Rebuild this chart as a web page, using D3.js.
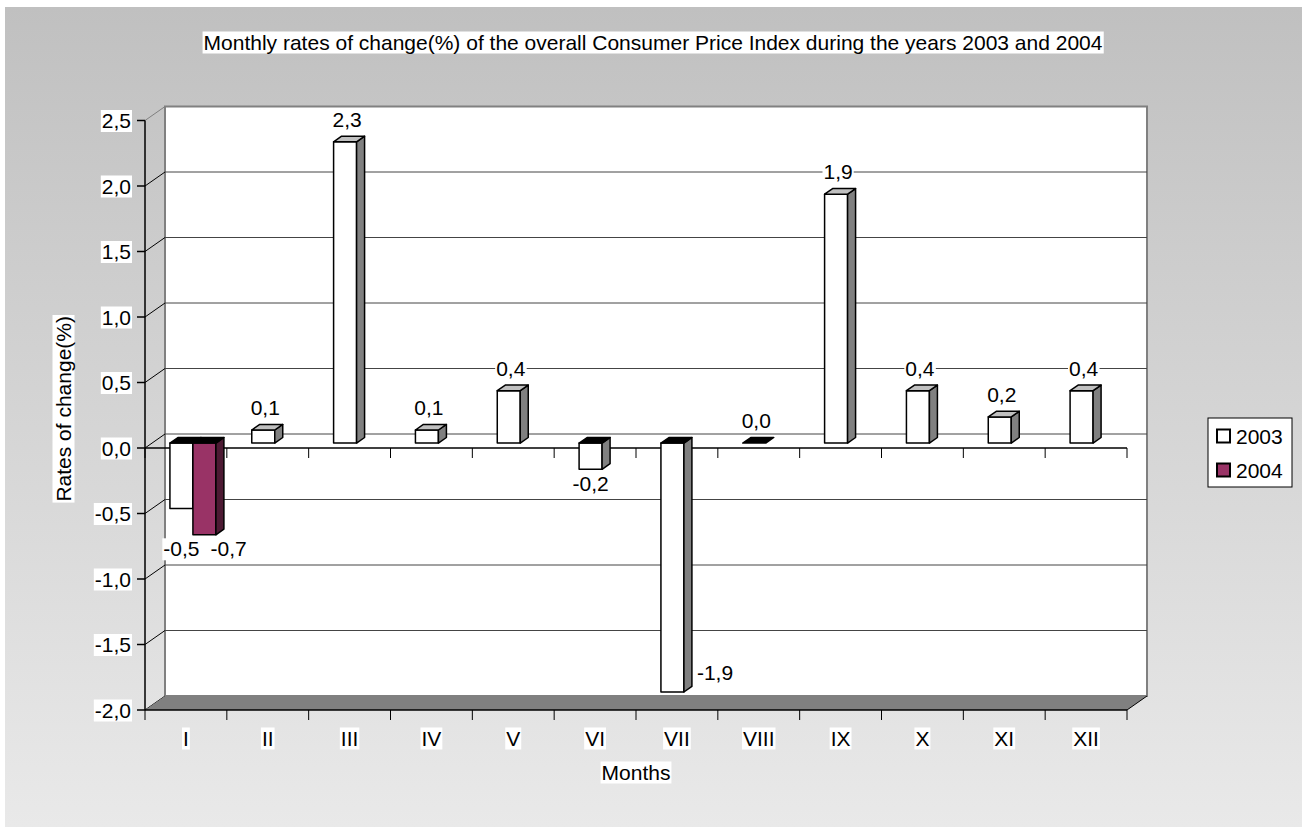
<!DOCTYPE html>
<html>
<head>
<meta charset="utf-8">
<script src="https://cdn.jsdelivr.net/npm/d3@7"></script>
<style>
  body { margin: 0; background: #fff; }
  text { font-family: "Liberation Sans", Arial, sans-serif; fill: #000; }
</style>
</head>
<body>
<svg id="chart"></svg>
<script>
const months = ["I", "II", "III", "IV", "V", "VI", "VII", "VIII", "IX", "X", "XI", "XII"];
const years = ["2003", "2004"];
const values2003 = [-0.5, 0.1, 2.3, 0.1, 0.4, -0.2, -1.9, 0.0, 1.9, 0.4, 0.2, 0.4];
const values2004 = [-0.7, null, null, null, null, null, null, null, null, null, null, null];
const yTicks = [-2.0, -1.5, -1.0, -0.5, 0.0, 0.5, 1.0, 1.5, 2.0, 2.5];
const title = "Monthly rates of change(%) of the overall Consumer Price Index during the years 2003 and 2004";

const width = 1306;
const height = 827;
const fontSize = 21;

const svg = d3.select("#chart")
  .attr("width", width)
  .attr("height", height);

// depth of the 3d box
const DX = 20, DY = -14;
const f1 = 0.35, f2 = 0.75;

const x = d3.scaleBand().domain(months).range([145, 1127]);
const xs = d3.scaleBand().domain(years).range([0, x.bandwidth()]).paddingOuter(0.78);
const y = d3.scaleLinear().domain([-2, 2.5]).range([710, 120.5]);

const fmt = v => v.toFixed(1).replace(".", ",");
const P = (px, py, f) => [px + f * DX, py + f * DY];

// background
const grad = svg.append("defs").append("linearGradient")
  .attr("id", "bg").attr("x1", 0).attr("y1", 0).attr("x2", 0).attr("y2", 1);
grad.append("stop").attr("offset", "0%").attr("stop-color", "#c0c0c0");
grad.append("stop").attr("offset", "100%").attr("stop-color", "#e9e9e9");

svg.append("rect").attr("width", width).attr("height", height).attr("fill", "#fff");
svg.append("rect").attr("x", 5).attr("y", 7).attr("width", 1297).attr("height", 820)
  .attr("fill", "url(#bg)");

const x0 = x.range()[0], x1 = x.range()[1];
const yMin = y(-2), yMax = y(2.5);

// back wall
svg.append("polygon")
  .attr("points", [P(x0, yMax, 1), P(x1, yMax, 1), P(x1, yMin, 1), P(x0, yMin, 1)].join(" "))
  .attr("fill", "#fff").attr("stroke", "#808080").attr("stroke-width", 2);

// grid lines on the back wall and the left side
yTicks.forEach(t => {
  if (t > -2 && t < 2.5) {
    const a = P(x0, y(t), 1), b = P(x1, y(t), 1);
    svg.append("line")
      .attr("x1", a[0]).attr("y1", a[1]).attr("x2", b[0]).attr("y2", b[1])
      .attr("stroke", "#444").attr("stroke-width", 1);
  }
  const c = P(x0, y(t), 1);
  svg.append("line")
    .attr("x1", x0).attr("y1", y(t)).attr("x2", c[0]).attr("y2", c[1])
    .attr("stroke", t === 2.5 ? "#808080" : "#000").attr("stroke-width", 1);
});

// floor
svg.append("polygon")
  .attr("points", [P(x0, yMin, 0), P(x1, yMin, 0), P(x1, yMin, 1), P(x0, yMin, 1)].join(" "))
  .attr("fill", "#808080");
const fr = P(x1, yMin, 1);
svg.append("line")
  .attr("x1", x1).attr("y1", yMin).attr("x2", fr[0]).attr("y2", fr[1])
  .attr("stroke", "#000").attr("stroke-width", 1);

// value axis
svg.append("line")
  .attr("x1", x0).attr("x2", x0).attr("y1", yMax).attr("y2", yMin)
  .attr("stroke", "#000").attr("stroke-width", 1.5);

const yAxis = svg.append("g");
yTicks.forEach(t => {
  yAxis.append("line")
    .attr("x1", x0 - 8).attr("x2", x0).attr("y1", y(t)).attr("y2", y(t))
    .attr("stroke", "#000").attr("stroke-width", 1.5);
});

// category lines: zero plane and floor edge
const bounds = months.map(m => x(m)).concat([x1]);
[0, -2].forEach(v => {
  svg.append("line")
    .attr("x1", x0).attr("x2", x1).attr("y1", y(v)).attr("y2", y(v))
    .attr("stroke", "#000").attr("stroke-width", 1.5);
  bounds.forEach(b => {
    svg.append("line")
      .attr("x1", b).attr("x2", b).attr("y1", y(v)).attr("y2", y(v) + 10)
      .attr("stroke", "#000").attr("stroke-width", 1);
  });
});

// bars
const series = [
  { year: "2003", values: values2003, front: "#ffffff", side: "#808080" },
  { year: "2004", values: values2004, front: "#993366", side: "#4d1a33" }
];

const bars = [];
months.forEach((m, i) => {
  series.forEach(s => {
    const v = s.values[i];
    if (v === null) return;
    bars.push({ month: m, year: s.year, value: v, s });
  });
});

const barLayer = svg.append("g");
bars.forEach(d => {
  const bx0 = x(d.month) + xs(d.year);
  const bx1 = bx0 + xs.bandwidth();
  const y0 = y(0), yv = y(d.value);
  const g = barLayer.append("g");
  const poly = (pts, fill) => g.append("polygon")
    .attr("points", pts.join(" "))
    .attr("fill", fill)
    .attr("stroke", "#000")
    .attr("stroke-width", 1.5)
    .attr("stroke-linejoin", "round");
  if (d.value !== 0) {
    poly([P(bx0, Math.min(y0, yv), f1), P(bx1, Math.min(y0, yv), f1),
          P(bx1, Math.max(y0, yv), f1), P(bx0, Math.max(y0, yv), f1)], d.s.front);
    poly([P(bx1, yv, f1), P(bx1, y0, f1), P(bx1, y0, f2), P(bx1, yv, f2)], d.s.side);
  }
  const topY = d.value > 0 ? yv : y0;
  poly([P(bx0, topY, f1), P(bx1, topY, f1), P(bx1, topY, f2), P(bx0, topY, f2)],
       d.value > 0 ? "#c0c0c0" : "#000");
  d.bx0 = bx0; d.bx1 = bx1;
});

// text with a white box behind
function boxedText(parent, tx, ty, str, anchor, rotate) {
  const g = parent.append("g")
    .attr("transform", `translate(${tx},${ty})` + (rotate ? ` rotate(${rotate})` : ""));
  const rect = g.append("rect").attr("fill", "#fff");
  const t = g.append("text")
    .attr("text-anchor", anchor || "middle")
    .attr("dominant-baseline", "central")
    .attr("font-size", fontSize)
    .text(str);
  const bb = t.node().getBBox();
  rect.attr("x", bb.x - 1).attr("y", bb.y + 1).attr("width", bb.width + 2).attr("height", bb.height - 1);
  return { g, bb };
}

// data labels
const labelLayer = svg.append("g");
months.forEach(m => {
  const group = bars.filter(d => d.month === m);
  let lastRight = -Infinity;
  group.forEach(d => {
    const cx = (d.bx0 + d.bx1) / 2 + f1 * DX;
    const str = fmt(d.value);
    if (d.value >= 0) {
      const top = y(d.value) + f2 * DY;
      boxedText(labelLayer, cx + 2, top - 17, str);
    } else {
      const bottom = d3.max(group, g => y(g.value)) + f1 * DY;
      if (bottom + 30 > y(-2) + DY) {
        const sx = d.bx1 + f2 * DX + 5;
        boxedText(labelLayer, sx, bottom - 20, str, "start");
      } else {
        const ly = bottom + 14;
        const tmp = boxedText(labelLayer, cx, ly, str);
        let left = cx + tmp.bb.x;
        if (left < lastRight + 10) {
          const shift = lastRight + 11 - left;
          tmp.g.attr("transform", `translate(${cx + shift},${ly})`);
          left += shift;
        }
        lastRight = left + tmp.bb.width;
      }
    }
  });
});

// tick labels
yTicks.forEach(t => boxedText(svg, 131, y(t), fmt(t), "end"));
months.forEach(m => boxedText(svg, x(m) + x.bandwidth() / 2, 738, m));

// titles
boxedText(svg, width / 2, 42, title);
boxedText(svg, (x0 + x1) / 2, 772, "Months");
boxedText(svg, 63, 316, "Rates of change(%)", "end", -90);

// legend
const legend = svg.append("g");
legend.append("rect")
  .attr("x", 1208).attr("y", 418).attr("width", 84).attr("height", 69)
  .attr("fill", "#fff").attr("stroke", "#000").attr("stroke-width", 1);
series.forEach((s, i) => {
  const ly = 436 + i * 34;
  legend.append("rect")
    .attr("x", 1217).attr("y", ly - 6.5).attr("width", 13).attr("height", 13)
    .attr("fill", s.front).attr("stroke", "#000").attr("stroke-width", 2);
  legend.append("text")
    .attr("x", 1236).attr("y", ly)
    .attr("dominant-baseline", "central")
    .attr("font-size", fontSize)
    .text(s.year);
});
</script>
</body>
</html>
